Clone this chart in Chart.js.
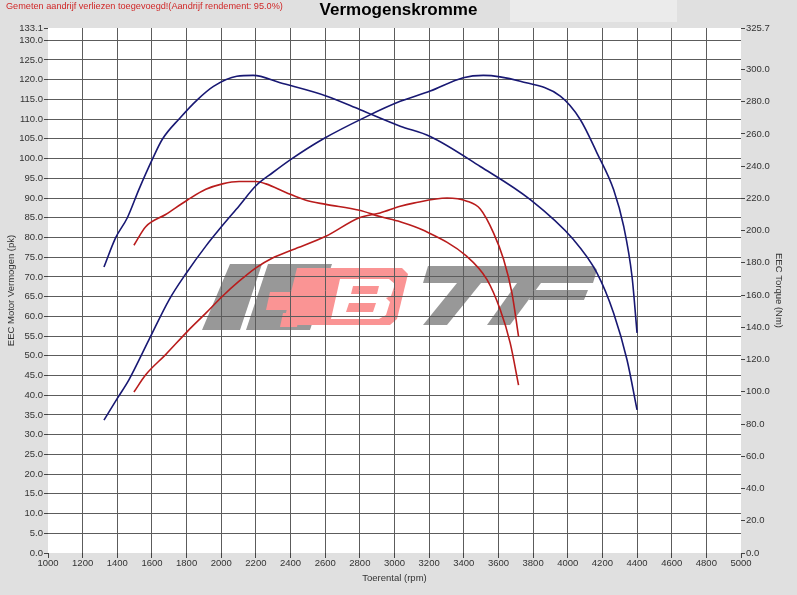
<!DOCTYPE html>
<html>
<head>
<meta charset="utf-8">
<script src="https://cdn.jsdelivr.net/npm/chart.js@4/dist/chart.umd.min.js"></script>
<style>
  body { margin: 0; background: #e0e0e0; }
  canvas { display: block; }
</style>
</head>
<body>
<canvas id="mycanvas" width="797" height="595"></canvas>
<script>
// tuned curves (blue)
var tunedPowerRpm = [1323, 1400, 1467, 1583, 1699, 1799, 1911, 1997, 2103, 2200, 2296, 2402, 2585, 2841, 3033, 3206, 3397, 3513, 3726, 3957, 4072, 4169, 4265, 4323, 4371, 4400];
var tunedPower = [33.7, 39.2, 43.9, 54.1, 64.2, 71.0, 77.8, 82.5, 88.0, 93.1, 96.4, 99.8, 104.9, 110.7, 114.5, 117.1, 120.5, 121.1, 119.6, 115.8, 109.9, 101.4, 92.1, 82.8, 70.1, 55.8];
var tunedTorqueRpm = [1323, 1390, 1458, 1525, 1602, 1660, 1762, 1860, 1955, 2090, 2185, 2340, 2609, 2802, 3033, 3206, 3495, 3784, 4034, 4169, 4265, 4342, 4400];
var tunedTorque = [177.4, 195.5, 208.0, 225.6, 244.2, 256.7, 269.9, 281.0, 289.5, 295.8, 296.3, 291.7, 283.4, 275.0, 264.8, 258.4, 239.8, 219.2, 194.3, 173.7, 148.8, 119.9, 88.8];

// stock curves (red)
var stockPowerRpm = [1496, 1564, 1679, 1805, 1911, 2007, 2103, 2200, 2296, 2412, 2604, 2797, 2917, 3033, 3110, 3303, 3418, 3495, 3572, 3630, 3678, 3716];
var stockPower = [40.8, 45.2, 50.3, 56.2, 60.8, 65.1, 68.9, 72.3, 74.8, 76.9, 80.3, 85.0, 86.2, 87.9, 88.7, 90.0, 89.2, 87.2, 81.1, 74.4, 65.9, 54.9];
var stockTorqueRpm = [1496, 1564, 1679, 1805, 1911, 2007, 2103, 2200, 2258, 2373, 2489, 2604, 2797, 2917, 3033, 3167, 3418, 3534, 3610, 3668, 3716];
var stockTorque = [190.9, 202.4, 210.0, 219.0, 225.6, 229.0, 230.5, 230.5, 229.0, 223.7, 218.8, 216.3, 212.6, 208.7, 205.5, 200.2, 184.0, 169.6, 151.0, 130.2, 104.2];

// axis ticks
var rpmTicks = [1000, 1200, 1400, 1600, 1800, 2000, 2200, 2400, 2600, 2800, 3000, 3200, 3400, 3600, 3800, 4000, 4200, 4400, 4600, 4800, 5000];
var powerTicks = [0, 5, 10, 15, 20, 25, 30, 35, 40, 45, 50, 55, 60, 65, 70, 75, 80, 85, 90, 95, 100, 105, 110, 115, 120, 125, 130, 133.1];
var torqueTicks = [0, 20, 40, 60, 80, 100, 120, 140, 160, 180, 200, 220, 240, 260, 280, 300, 325.7];

var noteText = "Gemeten aandrijf verliezen toegevoegd!(Aandrijf rendement: 95.0%)";
var fontFamily = "'Liberation Sans', Arial, sans-serif";
var tickFont = { family: fontFamily, size: 9.5 };
var textColor = "#333";
var gridColor = "#5c5c5c";
var blue = "rgb(24, 24, 115)";
var red = "rgb(185, 28, 28)";

function toPoints(xs, ys) {
  var pts = [];
  for (var i in xs) {
    pts.push({ x: xs[i], y: ys[i] });
  }
  return pts;
}

function poly(ctx, pts, color) {
  ctx.fillStyle = color;
  ctx.beginPath();
  ctx.moveTo(pts[0][0], pts[0][1]);
  for (var i = 1; i < pts.length; i++) ctx.lineTo(pts[i][0], pts[i][1]);
  ctx.closePath();
  ctx.fill();
}

// watermark logo behind the grid
function drawLogo(ctx) {
  var grey = "rgb(152, 152, 152)";
  var pink = "rgb(250, 148, 148)";
  poly(ctx, [[230, 264], [262, 264], [240, 330], [202, 330]], grey);
  poly(ctx, [[268, 264], [332, 264], [310, 330], [246, 330]], grey);
  poly(ctx, [[297, 268], [402, 268], [408, 274], [397, 319], [390, 325], [283, 325]], pink);
  poly(ctx, [[270, 292], [300, 292], [296, 310], [266, 310]], pink);
  poly(ctx, [[283, 313], [300, 313], [297, 327], [280, 327]], pink);
  // white B with pink counters
  poly(ctx, [[340, 279], [389, 279], [395, 284], [391, 296], [386, 298], [390, 302], [386, 315], [379, 319], [331, 319]], "#fff");
  poly(ctx, [[353, 286], [379, 286], [377, 294], [351, 294]], pink);
  poly(ctx, [[349, 303], [376, 303], [373, 312], [346, 312]], pink);
  poly(ctx, [[428, 266], [594, 266], [597, 270], [593, 283], [423, 283]], grey);
  poly(ctx, [[457, 283], [481, 283], [447, 325], [423, 325]], grey);
  poly(ctx, [[517, 283], [541, 283], [510, 325], [487, 325]], grey);
  poly(ctx, [[533, 290], [588, 290], [584, 300], [529, 300]], grey);
}

var background = {
  id: "background",
  beforeDraw: function(chart) {
    var ctx = chart.ctx;
    var a = chart.chartArea;
    ctx.save();
    ctx.fillStyle = "#e0e0e0";
    ctx.fillRect(0, 0, chart.width, chart.height);
    ctx.fillStyle = "#ebebeb";
    ctx.fillRect(510, 0, 167, 22);
    ctx.fillStyle = "#ffffff";
    ctx.fillRect(a.left, a.top, a.right - a.left, a.bottom - a.top);
    drawLogo(ctx);
    // red note at top left
    ctx.font = "10px " + fontFamily;
    var w = ctx.measureText(noteText).width;
    ctx.font = (10 * 277 / w).toFixed(2) + "px " + fontFamily;
    ctx.fillStyle = "rgb(208, 40, 40)";
    ctx.textBaseline = "middle";
    ctx.textAlign = "left";
    ctx.fillText(noteText, 6, 6.5);
    ctx.restore();
  }
};

function noEdge(values) {
  return function(c) {
    if (c.tick && values.indexOf(c.tick.value) >= 0) return "rgba(0,0,0,0)";
    return gridColor;
  };
}

var chartdata = {
  datasets: [
    { label: "Vermogen getuned", data: toPoints(tunedPowerRpm, tunedPower), yAxisID: "y", borderColor: blue },
    { label: "Torque getuned", data: toPoints(tunedTorqueRpm, tunedTorque), yAxisID: "y1", borderColor: blue },
    { label: "Vermogen origineel", data: toPoints(stockPowerRpm, stockPower), yAxisID: "y", borderColor: red },
    { label: "Torque origineel", data: toPoints(stockTorqueRpm, stockTorque), yAxisID: "y1", borderColor: red }
  ]
};

var ctx = document.getElementById("mycanvas");

var LineGraph = new Chart(ctx, {
  type: "line",
  data: chartdata,
  plugins: [background],
  options: {
    responsive: false,
    animation: false,
    layout: { padding: 0 },
    datasets: {
      line: {
        fill: false,
        borderWidth: 1.6,
        pointRadius: 0,
        cubicInterpolationMode: "monotone"
      }
    },
    plugins: {
      legend: { display: false },
      tooltip: { enabled: false },
      title: {
        display: true,
        text: "Vermogenskromme",
        color: "#000",
        font: { family: fontFamily, size: 17, weight: "bold" },
        padding: { top: 0, bottom: 7.6 }
      }
    },
    scales: {
      x: {
        type: "linear",
        min: 1000,
        max: 5000,
        afterBuildTicks: function(s) { s.ticks = rpmTicks.map(function(v) { return { value: v }; }); },
        afterFit: function(s) { s.height = 42; },
        ticks: { font: tickFont, color: textColor, padding: 0, maxRotation: 0, autoSkip: false,
                 callback: function(v) { return String(v); } },
        grid: { color: noEdge([1000, 5000]), tickColor: "#444", tickLength: 5, lineWidth: 1 },
        border: { display: false },
        title: { display: true, text: "Toerental (rpm)", color: textColor, font: tickFont,
                 padding: { top: 0, bottom: 11.3 } }
      },
      y: {
        position: "left",
        min: 0,
        max: 133.1,
        afterBuildTicks: function(s) { s.ticks = powerTicks.map(function(v) { return { value: v }; }); },
        afterFit: function(s) { s.width = 48; },
        ticks: { font: tickFont, color: textColor, padding: 1, autoSkip: false,
                 callback: function(v) { return v.toFixed(1); } },
        grid: { color: noEdge([0, 133.1]), tickColor: "#444", tickLength: 4, lineWidth: 1 },
        border: { display: false },
        title: { display: true, text: "EEC Motor Vermogen (pk)", color: textColor, font: tickFont,
                 padding: { top: 6, bottom: 0 } }
      },
      y1: {
        position: "right",
        min: 0,
        max: 325.7,
        afterBuildTicks: function(s) { s.ticks = torqueTicks.map(function(v) { return { value: v }; }); },
        afterFit: function(s) { s.width = 56; },
        ticks: { font: tickFont, color: textColor, padding: 1, autoSkip: false,
                 callback: function(v) { return v.toFixed(1); } },
        grid: { drawOnChartArea: false, color: "#444", tickColor: "#444", tickLength: 4 },
        border: { display: false },
        title: { display: true, text: "EEC Torque (Nm)", color: textColor, font: tickFont,
                 padding: { top: 13, bottom: 0 } }
      }
    }
  }
});
</script>
</body>
</html>
